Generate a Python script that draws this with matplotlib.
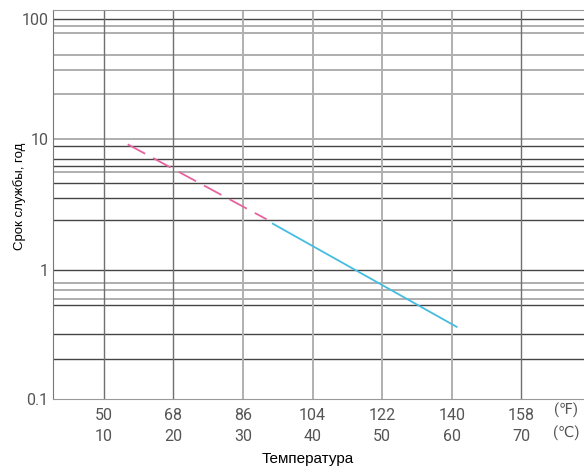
import numpy as np
import matplotlib
matplotlib.use("Agg")
import matplotlib.pyplot as plt

plt.rcParams['font.family'] = ['Roboto', 'DejaVu Sans']

# temperature ticks
temp_c = [10, 20, 30, 40, 50, 60, 70]
temp_f = [50, 68, 86, 104, 122, 140, 158]

# service life lines (deg C, years)
est_t = [13.45, 33.4]
est_life = [9.06, 2.42]
meas_t = [34.3, 60.7]
meas_life = [2.24, 0.36]

# y ticks and the grid levels of the printed chart
y_ticks = [0.1, 1, 10, 100]
y_tick_labels = ['0.1', '1', '10', '100']
dark_levels = [0.204, 0.315, 0.531, 1, 2.4, 3.5, 4.6, 6.2, 7.0, 8.8, 100]
light_levels = [0.59, 0.70, 0.78, 5.6, 10, 23.7, 37.6, 50.5, 77.3, 87.9]
dark_vlines = [10, 20, 70]
light_vlines = [30, 40, 50, 60]

# the printed log axis is not quite even: decades have different heights
dec_log = [-2, -1, 0, 1, 2, 3]
dec_pos = [-129.2, 0, 129.2, 260.0, 379.4, 498.8]


def fwd(v):
    v = np.clip(np.asarray(v, dtype=float), 1e-6, None)
    return np.interp(np.log10(v), dec_log, dec_pos)


def inv(p):
    return 10 ** np.interp(np.asarray(p, dtype=float), dec_pos, dec_log)


fig = plt.figure(figsize=(5.84, 4.70), dpi=100)
ax = fig.add_axes([0.0902, 0.1517, 0.9098, 0.8270])
ax.set_yscale('function', functions=(fwd, inv))
ax.set_xlim(2.67, 79.0)
ax.set_ylim(0.1, 119.7)

for lv in dark_levels:
    ax.axhline(lv, color='#444444', lw=1.0, zorder=1)
for lv in light_levels:
    ax.axhline(lv, color='#a8a8a8', lw=1.3, zorder=1)
for xv in dark_vlines:
    ax.axvline(xv, color='#707070', lw=1.0, zorder=1)
for xv in light_vlines:
    ax.axvline(xv, color='#b0b0b0', lw=1.4, zorder=1)

ax.plot(est_t, est_life, color='#e6649e', lw=1.3, dashes=(11, 5), zorder=3)
ax.plot(meas_t, meas_life, color='#45bde0', lw=1.3, zorder=3)

ax.set_yticks(y_ticks)
ax.set_yticklabels(y_tick_labels)
ax.yaxis.set_minor_locator(matplotlib.ticker.NullLocator())
ax.set_xticks(temp_c)
ax.set_xticklabels([f"{f}\n{c}" for f, c in zip(temp_f, temp_c)])
for lbl in ax.get_xticklabels():
    lbl.set_linespacing(1.5)
ax.tick_params(axis='x', length=0, pad=7, labelsize=11.5, labelcolor='#555555')
ax.tick_params(axis='y', length=0, pad=3, labelsize=11.5, labelcolor='#555555')

ax.text(1.0 - 18 / 532, -0.0095, "(\u2109)\n(\u2103)", transform=ax.transAxes,
        ha='center', va='top', fontsize=10.5, color='#555555', linespacing=1.7)

ax.set_xlabel("Температура", fontsize=11, family=['Liberation Sans', 'DejaVu Sans'])
ax.xaxis.set_label_coords((307.5 - 52.7) / 531.3, -(459 - 398.7) / 388.7)
ax.set_ylabel("Срок службы, год", fontsize=9.5, family=['Liberation Sans', 'DejaVu Sans'])
ax.yaxis.set_label_coords(-(52.7 - 20) / 531.3, (398.7 - 196) / 388.7)
ax.xaxis.label.set_va('center')
ax.yaxis.label.set_va('center')

for side in ['top', 'bottom']:
    ax.spines[side].set_color('#999999')
ax.spines['left'].set_color('#777777')
ax.spines['right'].set_visible(False)

fig.savefig('out.png', dpi=100)
